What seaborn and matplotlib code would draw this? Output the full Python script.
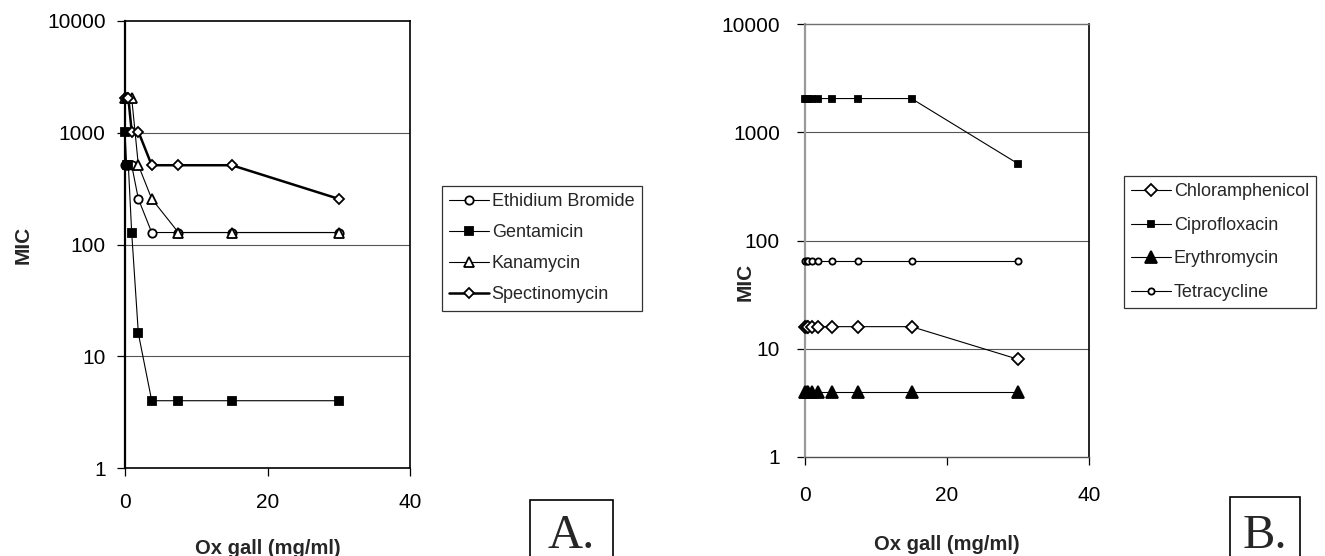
import matplotlib
matplotlib.use("Agg")
import matplotlib.pyplot as plt
import matplotlib.ticker as mticker
from matplotlib.patches import Rectangle
import seaborn as sns
import pandas as pd

# ---------------- data ----------------
ox_gall = [0, 0.234, 0.469, 0.9375, 1.875, 3.75, 7.5, 15, 30]

# Panel A
ethidium_bromide = [512, 512, 512, 512, 256, 128, 128, 128, 128]
gentamicin = [1024, 512, 512, 128, 16, 4, 4, 4, 4]
kanamycin = [2048, 2048, 2048, 2048, 512, 256, 128, 128, 128]
spectinomycin = [2048, 2048, 2048, 1024, 1024, 512, 512, 512, 256]

# Panel B
chloramphenicol = [16, 16, 16, 16, 16, 16, 16, 16, 8]
ciprofloxacin = [2048, 2048, 2048, 2048, 2048, 2048, 2048, 2048, 512]
erythromycin = [4, 4, 4, 4, 4, 4, 4, 4, 4]
tetracycline = [64, 64, 64, 64, 64, 64, 64, 64, 64]

y_ticks = [1, 10, 100, 1000, 10000]
y_tick_labels = ["1", "10", "100", "1000", "10000"]
x_ticks = [0, 20, 40]
x_label = "Ox gall (mg/ml)"
y_label = "MIC"

sns.set_theme(style="white")
plt.rcParams["font.family"] = ["Liberation Sans", "DejaVu Sans"]

W, H = 1325, 556
fig = plt.figure(figsize=(W / 100, H / 100), dpi=100)
fig.patch.set_facecolor("white")


def frac(l, t, r, b):
    return [l / W, 1 - b / H, (r - l) / W, (b - t) / H]


axA = fig.add_axes(frac(125, 21, 410, 468))
axB = fig.add_axes(frac(805, 24, 1089, 457))

seriesA = [
    ("Ethidium Bromide", ethidium_bromide, dict(marker="o", mfc="white", ms=6.0, lw=0.8)),
    ("Gentamicin", gentamicin, dict(marker="s", mfc="black", ms=6.0, lw=0.8)),
    ("Kanamycin", kanamycin, dict(marker="^", mfc="white", ms=7.0, lw=0.8)),
    ("Spectinomycin", spectinomycin, dict(marker="D", mfc="white", ms=4.8, lw=1.8)),
]
seriesB = [
    ("Chloramphenicol", chloramphenicol, dict(marker="D", mfc="white", ms=6.0, lw=0.8)),
    ("Ciprofloxacin", ciprofloxacin, dict(marker="s", mfc="black", ms=4.2, lw=0.8)),
    ("Erythromycin", erythromycin, dict(marker="^", mfc="black", ms=8.0, lw=0.8)),
    ("Tetracycline", tetracycline, dict(marker="o", mfc="white", ms=4.5, lw=0.8)),
]

for ax, series in ((axA, seriesA), (axB, seriesB)):
    for name, vals, st in series:
        df = pd.DataFrame({"x": ox_gall, "y": vals})
        sns.lineplot(data=df, x="x", y="y", ax=ax, color="black", label=name,
                     marker=st["marker"], markerfacecolor=st["mfc"],
                     markeredgecolor="black", markeredgewidth=1.3,
                     markersize=st["ms"], linewidth=st["lw"], clip_on=False,
                     zorder=3, sort=False)
    ax.set_yscale("log")
    ax.set_ylim(1, 10000)
    ax.set_xlim(0, 40)
    ax.yaxis.set_major_locator(mticker.FixedLocator(y_ticks))
    ax.yaxis.set_major_formatter(mticker.FixedFormatter(y_tick_labels))
    ax.yaxis.set_minor_locator(mticker.NullLocator())
    ax.xaxis.set_major_locator(mticker.FixedLocator(x_ticks))
    ax.xaxis.set_major_formatter(mticker.FormatStrFormatter("%d"))
    for yv in y_ticks[1:-1]:
        ax.axhline(yv, color="#555555", lw=0.8, zorder=1)
    ax.tick_params(axis="both", labelsize=15, colors="black", length=6,
                   width=0.9, direction="out", left=True, bottom=True)
    ax.set_xlabel(x_label, fontsize=14.5, fontweight="bold")
    ax.set_ylabel(y_label, fontsize=15, fontweight="bold")
    ax.xaxis.label.set_va("center")
    ax.yaxis.label.set_va("center")
    ax.set_facecolor("white")
    ax.grid(False)

# panel A frame
for s in axA.spines.values():
    s.set_color("black")
    s.set_linewidth(1.2)
axA.spines["left"].set_linewidth(1.6)
axA.tick_params(axis="x", pad=12)
axA.tick_params(axis="y", pad=8)
axA.xaxis.set_label_coords(0.5, (468 - 548) / 447)
axA.yaxis.set_label_coords((23 - 125) / 285, 0.5)

# panel B frame
axB.spines["left"].set_color("#9a9a9a")
axB.spines["left"].set_linewidth(1.6)
axB.spines["top"].set_color("#707070")
axB.spines["top"].set_linewidth(1.0)
axB.spines["bottom"].set_color("#505050")
axB.spines["bottom"].set_linewidth(1.0)
axB.spines["right"].set_color("black")
axB.spines["right"].set_linewidth(1.2)
axB.tick_params(axis="x", pad=15)
axB.tick_params(axis="y", pad=12)
axB.xaxis.set_label_coords(0.5, (457 - 544) / 433)
axB.yaxis.set_label_coords((745 - 805) / 284, (457 - 282) / 433)

leg_kw = dict(loc="upper left", bbox_transform=fig.transFigure, borderaxespad=0,
              fontsize=13, frameon=True, fancybox=False, shadow=False,
              edgecolor="#333333", framealpha=1, handlelength=2.2,
              handletextpad=0.15, borderpad=0.4)
legA = axA.legend(bbox_to_anchor=(442 / W, 1 - 186 / H), labelspacing=0.78, **leg_kw)
legB = axB.legend(bbox_to_anchor=(1124 / W, 1 - 176 / H), labelspacing=0.92, **leg_kw)
for leg in (legA, legB):
    leg.get_frame().set_linewidth(0.9)

# panel labels
for (l, r, t, lab) in ((530, 613, 500, "A."), (1230, 1300, 497, "B.")):
    fig.patches.append(Rectangle((l / W, -0.05), (r - l) / W, 1 - t / H + 0.05,
                                 transform=fig.transFigure, fill=False,
                                 edgecolor="black", linewidth=1.2))
    fig.text((l + r) / 2 / W, 1 - 548 / H, lab, ha="center", va="baseline",
             fontsize=35, family=["Liberation Serif", "DejaVu Serif"])

fig.savefig("out.png", dpi=100, facecolor="white")
